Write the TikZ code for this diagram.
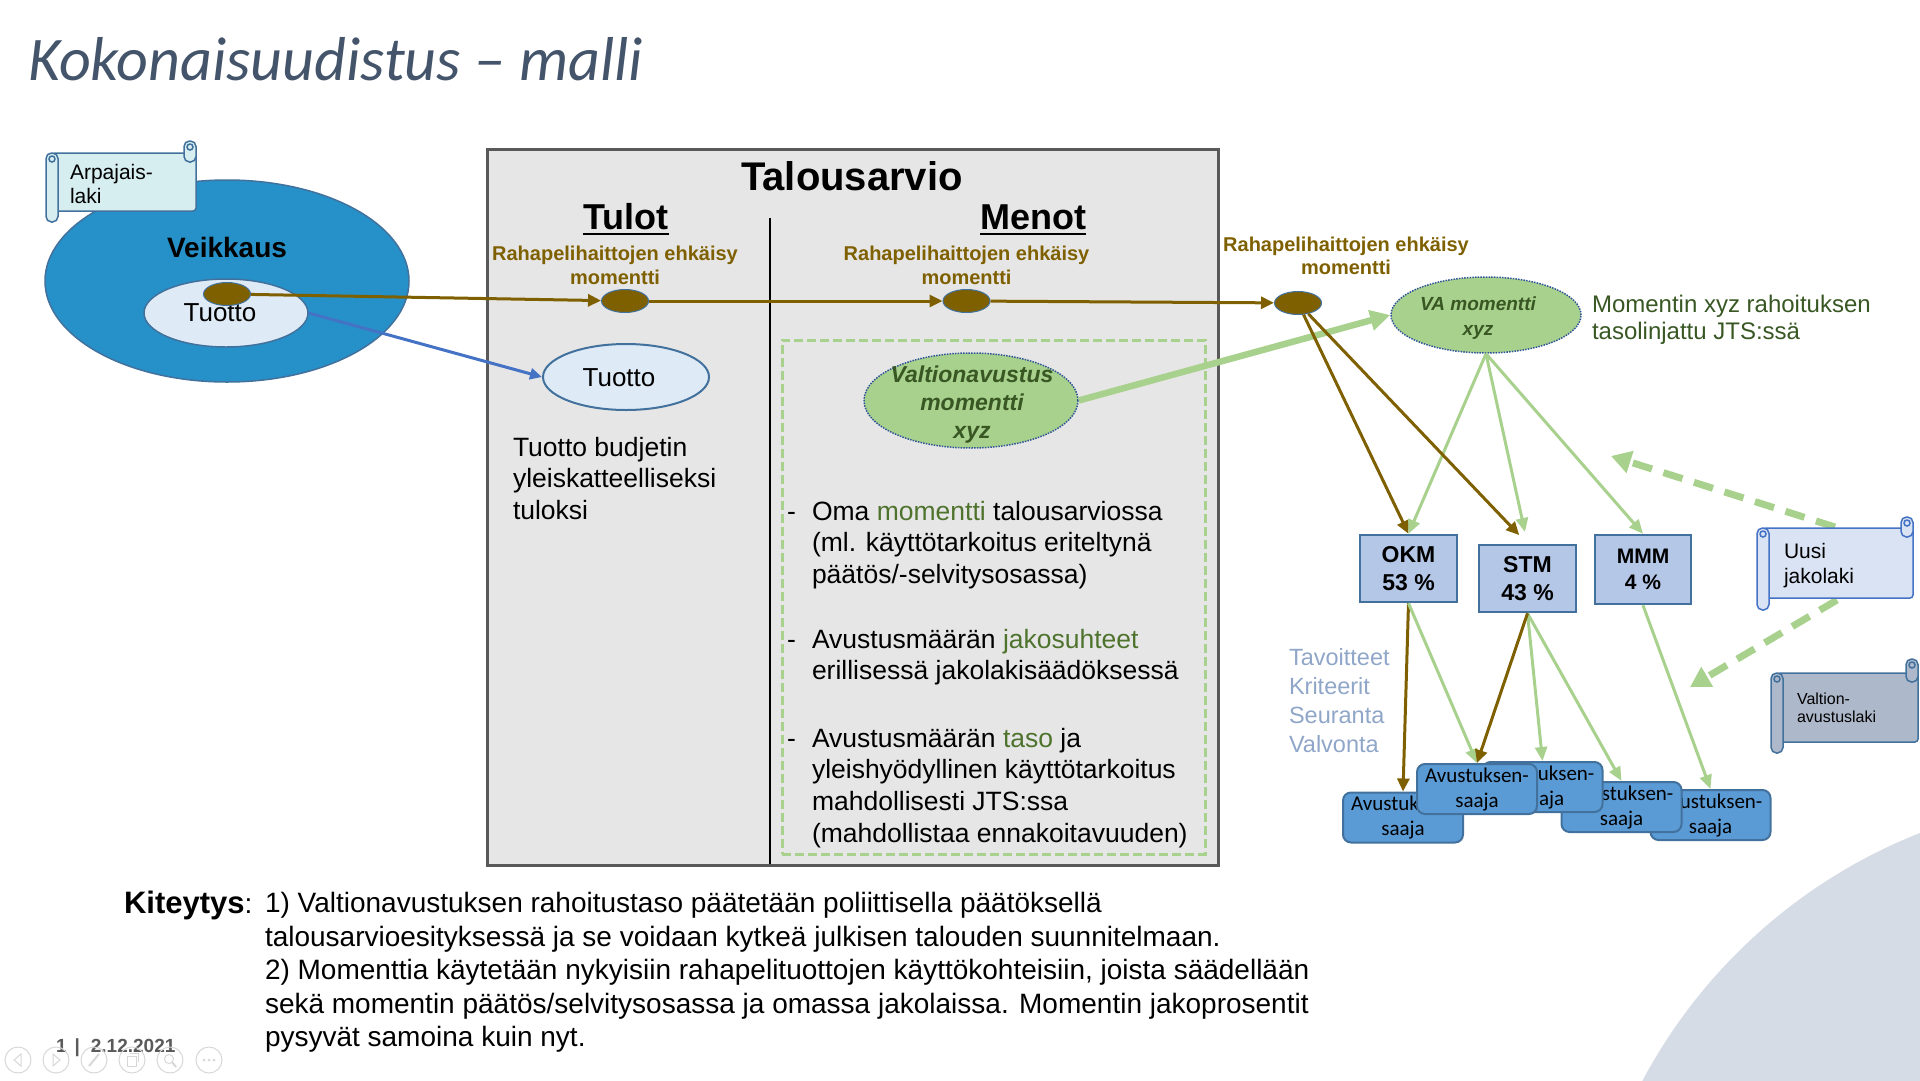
\documentclass[tikz,border=0pt]{standalone}
\usepackage{fontspec}
\setmainfont{Liberation Sans}
\newfontfamily\calib{Carlito}
\usetikzlibrary{arrows.meta,shapes.geometric}

\definecolor{titlec}{RGB}{68,84,106}
\definecolor{brownc}{RGB}{127,96,0}
\definecolor{veikblue}{RGB}{38,145,200}
\definecolor{bordblue}{RGB}{65,113,156}
\definecolor{lightfill}{RGB}{222,235,247}
\definecolor{arrowblue}{RGB}{68,114,196}
\definecolor{boxgray}{RGB}{231,230,230}
\definecolor{boxborder}{RGB}{89,89,89}
\definecolor{vgreen}{RGB}{169,209,142}
\definecolor{dkgreen}{RGB}{56,87,35}
\definecolor{hlgreen}{RGB}{78,115,45}
\definecolor{dotblue}{RGB}{47,85,151}
\definecolor{minfill}{RGB}{180,199,231}
\definecolor{saajafill}{RGB}{91,155,213}
\definecolor{tavc}{RGB}{143,166,200}
\definecolor{uusifill}{RGB}{218,227,243}
\definecolor{valtfill}{RGB}{173,185,202}
\definecolor{arpfill}{RGB}{214,238,240}
\definecolor{bgcirc}{RGB}{214,220,229}
\definecolor{footc}{RGB}{90,90,90}
\definecolor{iconc}{RGB}{215,215,215}

% horizontal scroll: #1 x1, #2 x2, #3 y top of right curl, #4 body top, #5 body bottom, #6 bottom of left curl, #7 style
\newcommand{\drawscroll}[7]{%
  \filldraw[#7, rounded corners=3pt] (#1+6,#4) rectangle (#2,#5);
  \filldraw[#7, rounded corners=5.5pt] (#2-12,#3) rectangle (#2,#4+9);
  \filldraw[#7] (#2-6,#3+6) circle (3pt);
  \filldraw[#7, rounded corners=5.5pt] (#1,#4) rectangle (#1+12,#6);
  \filldraw[#7] (#1+6,#4+6) circle (3pt);
}

\begin{document}
\begin{tikzpicture}[x=1pt,y=-1pt,
  lbl/.style={inner sep=0pt, outer sep=0pt},
  brownarrow/.style={draw=brownc, line width=3pt, -{Triangle[length=13pt,width=12pt]}},
  greenarrow/.style={draw=vgreen, line width=3pt, -{Triangle[length=14pt,width=12pt]}},
  bluearrow/.style={draw=arrowblue, line width=3pt, -{Triangle[length=12pt,width=11pt]}},
  bigarrow/.style={draw=vgreen, line width=6.5pt, -{Triangle[length=20pt,width=20pt]}},
  dasharrow/.style={draw=vgreen, line width=7pt, dash pattern=on 20pt off 12pt, -{Triangle[length=20pt,width=22pt]}},
  momoval/.style={ellipse, fill=brownc, draw=bordblue, line width=1pt, minimum width=47pt, minimum height=23pt, inner sep=0pt},
  rphtxt/.style={lbl, align=center, text=brownc, font=\bfseries\fontsize{20}{24}\selectfont},
  minbox/.style={rectangle, fill=minfill, draw=bordblue, line width=2.5pt, inner sep=0pt, align=center, font=\bfseries\fontsize{23}{28}\selectfont},
  saaja/.style={rectangle, rounded corners=8pt, fill=saajafill, draw=bordblue, line width=2pt, minimum width=120pt, minimum height=50pt, inner sep=0pt, align=center, font=\calib\fontsize{21}{25}\selectfont},
  greenell/.style={ellipse, fill=vgreen, draw=dotblue, line width=1.5pt, dash pattern=on 1.5pt off 1.2pt, inner sep=0pt},
  bodytxt/.style={lbl, align=left, font=\fontsize{26.5}{31.7}\selectfont},
  arpstyle/.style={fill=arpfill, draw=bordblue, line width=1.5pt},
  uusistyle/.style={fill=uusifill, draw=arrowblue, line width=1.5pt},
  valtstyle/.style={fill=valtfill, draw=bordblue, line width=1.5pt},
  navicon/.style={circle, draw=iconc, line width=1pt, minimum size=26pt, inner sep=0pt},
  iconline/.style={draw=iconc, line width=1pt},
]
\useasboundingbox (0,0) rectangle (1920,1080);
\begin{scope}
  \clip (0,0) rectangle (1920,1080);
  \fill[bgcirc] (2116,1332) circle (536pt);
\end{scope}

% title
\node[lbl, anchor=base west, text=titlec, font=\calib\itshape\fontsize{62}{72}\selectfont] (title) at (28,80) {Kokonaisuudistus – malli};

% Talousarvio box
\node[rectangle, fill=boxgray, draw=boxborder, line width=2.5pt, minimum width=731pt, minimum height=716pt, anchor=north west, inner sep=0pt] (talbox) at (486,148) {};
\draw[line width=1.2pt] (770,218) -- (770,864);
\node[lbl, font=\bfseries\fontsize{40}{44}\selectfont] (talo) at (852,176) {Talousarvio};
\node[lbl, anchor=base, font=\bfseries\fontsize{36}{40}\selectfont] (tulot) at (626,229) {Tulot};
\draw[line width=2.5pt] ([yshift=-5pt]tulot.base west) -- ([yshift=-5pt]tulot.base east);
\node[lbl, anchor=base, font=\bfseries\fontsize{36}{40}\selectfont] (menot) at (1033,229) {Menot};
\draw[line width=2.5pt] ([yshift=-5pt]menot.base west) -- ([yshift=-5pt]menot.base east);
\node[rphtxt, anchor=north] (rp1) at (615,245.5) {Rahapelihaittojen ehkäisy\\momentti};
\node[rphtxt, anchor=north] (rp2) at (966.5,245.5) {Rahapelihaittojen ehkäisy\\momentti};
\node[rphtxt, anchor=north, font=\bfseries\fontsize{20}{23}\selectfont] (rp3) at (1346,236.5) {Rahapelihaittojen ehkäisy\\momentti};

% Veikkaus
\node[ellipse, fill=veikblue, draw=bordblue, line width=1.5pt, minimum width=364pt, minimum height=202pt, inner sep=0pt] (veik) at (227,281) {};
\node[lbl, font=\bfseries\fontsize{28}{32}\selectfont] (veiklbl) at (227,247) {Veikkaus};
\node[ellipse, fill=lightfill, draw=bordblue, line width=1.5pt, minimum width=164pt, minimum height=68pt, inner sep=0pt] (innerT) at (226,313) {};
\node[lbl, font=\fontsize{26}{30}\selectfont] (innerTlbl) at (220,313) {Tuotto};
\node[momoval] (vsmall) at (227,294) {};

% Arpajaislaki scroll
\drawscroll{46}{196}{141}{153}{211}{222}{arpstyle}
\node[lbl, anchor=north west, align=left, font=\fontsize{21}{24}\selectfont] (arp) at (70,164) {Arpajais-\\laki};

% budget line ovals
\node[momoval] (o1) at (625,301) {};
\node[momoval] (o2) at (966.5,301) {};
\node[momoval] (o3) at (1298,303) {};
\draw[brownarrow] (vsmall) -- (o1);
\draw[brownarrow] (o1) -- (o2);
\draw[brownarrow] (o2) -- (o3);

% Tulot side
\node[ellipse, fill=lightfill, draw=bordblue, line width=2pt, minimum width=166pt, minimum height=66pt, inner sep=0pt] (tuotto2) at (626,377) {};
\node[lbl, font=\fontsize{26}{30}\selectfont] (tuotto2lbl) at (619,378) {Tuotto};
\draw[bluearrow] (innerT.east) -- (tuotto2.west);
\node[bodytxt, anchor=north west] (tbtxt) at (513,437) {Tuotto budjetin\\yleiskatteelliseksi\\tuloksi};

% Menot side
\node[rectangle, draw=vgreen, line width=2.5pt, dash pattern=on 9pt off 4pt, minimum width=423pt, minimum height=514pt, anchor=north west, inner sep=0pt] (vabox) at (781,339) {};
\node[greenell, minimum width=214pt, minimum height=95pt] (vaell) at (971,400.5) {};
\node[lbl, align=center, text=dkgreen, font=\bfseries\itshape\fontsize{23}{28}\selectfont] (vaeltxt) at (972,405) {Valtionavustus\\momentti\\xyz};

\node[lbl, anchor=base west, font=\fontsize{26.5}{31.7}\selectfont] (d1) at (787,520) {-};
\node[bodytxt, anchor=north west] (b1) at (812,501) {Oma {\color{hlgreen}momentti} talousarviossa\\(ml. käyttötarkoitus eriteltynä\\päätös/-selvitysosassa)};
\node[lbl, anchor=base west, font=\fontsize{26.5}{31.7}\selectfont] (d2) at (787,648) {-};
\node[bodytxt, anchor=north west] (b2) at (812,629) {Avustusmäärän {\color{hlgreen}jakosuhteet}\\erillisessä jakolakisäädöksessä};
\node[lbl, anchor=base west, font=\fontsize{26.5}{31.7}\selectfont] (d3) at (787,747) {-};
\node[bodytxt, anchor=north west] (b3) at (812,728) {Avustusmäärän {\color{hlgreen}taso} ja\\yleishyödyllinen käyttötarkoitus\\mahdollisesti JTS:ssa\\(mahdollistaa ennakoitavuuden)};

% VA momentti
\node[greenell, minimum width=190pt, minimum height=76pt] (vam) at (1486,315) {};
\node[lbl, align=center, text=dkgreen, font=\bfseries\itshape\fontsize{19}{25}\selectfont] (vamtxt) at (1478,318) {VA momentti\\xyz};
\node[lbl, anchor=north west, align=left, text=dkgreen, font=\fontsize{24}{27}\selectfont] (momtxt) at (1592,295) {Momentin xyz rahoituksen\\tasolinjattu JTS:ssä};
\draw[bigarrow] (vaell.east) -- (vam.west);

% ministries
\node[minbox, minimum width=97pt, minimum height=67pt] (okm) at (1408.5,568.5) {OKM\\53 \%};
\node[minbox, minimum width=97pt, minimum height=67pt] (stm) at (1527.5,578.5) {STM\\43 \%};
\node[minbox, minimum width=96pt, minimum height=69pt, font=\bfseries\fontsize{21}{26}\selectfont] (mmm) at (1643,569.5) {MMM\\4 \%};

\draw[brownarrow] (o3) -- (okm.north);
\draw[greenarrow] (vam.south) -- (okm.north);
\draw[greenarrow, shorten >=12pt] (vam.south) -- (stm.north);
\draw[brownarrow, shorten >=12pt] (o3) -- (stm.north);
\draw[greenarrow] (vam.south) -- (mmm.north);

\node[lbl, anchor=north west, align=left, text=tavc, font=\fontsize{23.5}{29}\selectfont] (tav) at (1289,648) {Tavoitteet\\Kriteerit\\Seuranta\\Valvonta};

% recipients
\node[saaja] (sE) at (1710.5,815) {Avustuksen-\\saaja};
\node[saaja] (sD) at (1621.5,807) {Avustuksen-\\saaja};
\node[saaja] (sC) at (1542.5,787) {Avustuksen-\\saaja};
\node[saaja] (sA) at (1403,817.5) {Avustuksen-\\saaja};
\node[saaja] (sB) at (1477,789) {Avustuksen-\\saaja};

\draw[brownarrow] (okm.south) -- (sA.north);
\draw[greenarrow] (okm.south) -- (sB.north);
\draw[greenarrow] (stm.south) -- (sC.north);
\draw[greenarrow] (stm.south) -- (sD.north);
\draw[brownarrow] (stm.south) -- (sB.north);
\draw[greenarrow] (mmm.south) -- (sE.north);

% dashed arrows from Uusi jakolaki
\coordinate (uusiA) at (1835,527);
\coordinate (tipA) at (1611,456);
\coordinate (uusiB) at (1837,600);
\coordinate (tipB) at (1690,687);
\draw[dasharrow] (uusiA) -- (tipA);
\draw[dasharrow] (uusiB) -- (tipB);

% scrolls on the right
\drawscroll{1757}{1913}{517}{528}{598}{610}{uusistyle}
\node[lbl, anchor=north west, align=left, font=\fontsize{21}{25}\selectfont] (uusi) at (1784,543) {Uusi\\jakolaki};
\drawscroll{1771}{1918}{659}{673}{742}{753}{valtstyle}
\node[lbl, anchor=north west, align=left, font=\fontsize{16}{18.5}\selectfont] (valtlaki) at (1797,692.5) {Valtion-\\avustuslaki};

% Kiteytys
\node[lbl, anchor=base west, font=\bfseries\fontsize{31}{36}\selectfont] (kit) at (124,913) {Kiteytys};
\node[lbl, anchor=base west, font=\fontsize{28}{33}\selectfont] (kitcol) at (kit.base east) {:};
\node[lbl, anchor=north west, align=left, font=\fontsize{28}{33.5}\selectfont] (kittxt) at (265,892.6) {1) Valtionavustuksen rahoitustaso päätetään poliittisella päätöksellä\\talousarvioesityksessä ja se voidaan kytkeä julkisen talouden suunnitelmaan.\\2) Momenttia käytetään nykyisiin rahapelituottojen käyttökohteisiin, joista säädellään\\sekä momentin päätös/selvitysosassa ja omassa jakolaissa. Momentin jakoprosentit\\pysyvät samoina kuin nyt.};

% footer
\node[lbl, anchor=base west, text=footc, font=\bfseries\fontsize{19}{22}\selectfont] (foot) at (56,1052) {1\hspace{8pt}|\hspace{11pt}2.12.2021};
\node[navicon] (nav1) at (18,1060) {};
\node[navicon] (nav2) at (56,1060) {};
\node[navicon] (nav3) at (94,1060) {};
\node[navicon] (nav4) at (132,1060) {};
\node[navicon] (nav5) at (170,1060) {};
\node[navicon] (nav6) at (209,1060) {};
\draw[iconline] ([xshift=3pt,yshift=6pt]nav1.center) -- ([xshift=-4pt]nav1.center) -- ([xshift=3pt,yshift=-6pt]nav1.center) -- cycle;
\draw[iconline] ([xshift=-3pt,yshift=6pt]nav2.center) -- ([xshift=4pt]nav2.center) -- ([xshift=-3pt,yshift=-6pt]nav2.center) -- cycle;
\draw[iconline, line width=2pt] ([xshift=-5pt,yshift=-6pt]nav3.center) -- ([xshift=5pt,yshift=6pt]nav3.center);
\draw[iconline] ([xshift=-5pt,yshift=-6pt]nav4.center) rectangle ([xshift=4pt,yshift=4pt]nav4.center);
\draw[iconline] ([xshift=-2pt,yshift=7pt]nav4.center) -- ([xshift=6pt,yshift=7pt]nav4.center) -- ([xshift=6pt,yshift=-2pt]nav4.center);
\draw[iconline] ([xshift=-1pt,yshift=1pt]nav5.center) circle (4.5pt);
\draw[iconline, line width=2pt] ([xshift=2pt,yshift=-2pt]nav5.center) -- ([xshift=6pt,yshift=-7pt]nav5.center);
\fill[iconc] ([xshift=-5pt]nav6.center) circle (1.5pt) (nav6.center) circle (1.5pt) ([xshift=5pt]nav6.center) circle (1.5pt);
\end{tikzpicture}
\end{document}
